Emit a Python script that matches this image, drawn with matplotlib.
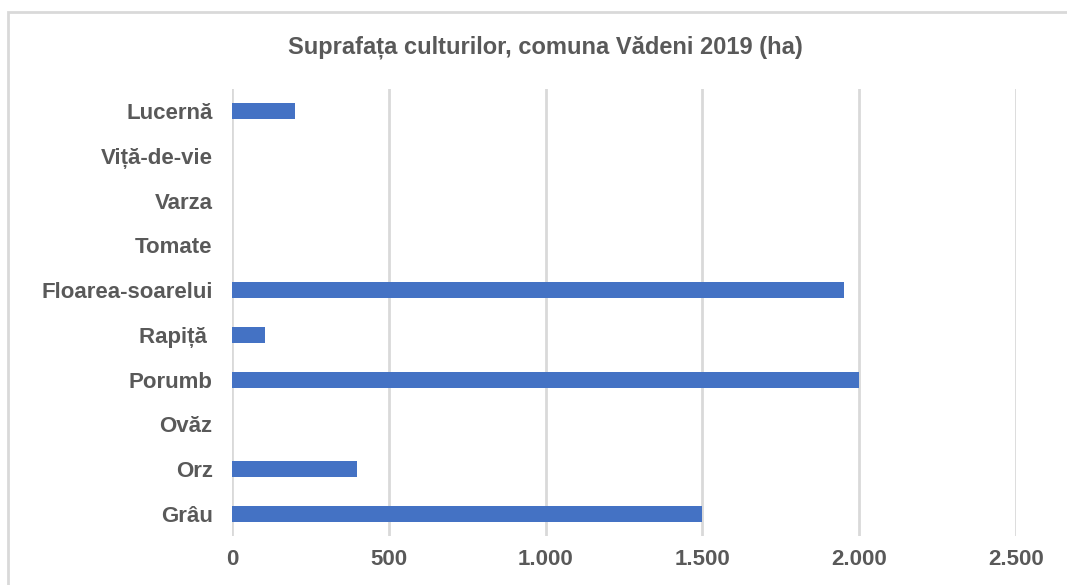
import matplotlib.pyplot as plt
from matplotlib.patches import Rectangle

# data (ha), bottom to top as in the chart
culturi = ['Grâu', 'Orz', 'Ovăz', 'Porumb', 'Rapiță ', 'Floarea-soarelui',
           'Tomate', 'Varza', 'Viță-de-vie', 'Lucernă']
suprafata = [1500, 400, 0, 2000, 105, 1950, 0, 0, 0, 200]
x_ticks = [0, 500, 1000, 1500, 2000, 2500]
x_labels = ['0', '500', '1.000', '1.500', '2.000', '2.500']

plt.rcParams['font.family'] = ['Liberation Sans', 'DejaVu Sans']
gray = '#595959'

fig = plt.figure(figsize=(10.67, 5.85), dpi=100)
W, H = 1067, 585

# chart border (extends past right/bottom edge)
fig.patches.append(Rectangle((8 / W, -0.1), 1.2, 1 - 12 / H + 0.1,
                             transform=fig.transFigure, fill=False,
                             edgecolor='#d9d9d9', linewidth=2))

ax = fig.add_axes([232 / W, 1 - 536.4 / H, 784 / W, 447.8 / H])
ax.barh(range(len(culturi)), suprafata, height=0.36, color='#4472C4', zorder=3)

ax.set_xlim(0, 2500)
ax.set_ylim(-0.5, len(culturi) - 0.5)
ax.set_xticks(x_ticks)
ax.set_xticklabels(x_labels)
ax.set_yticks(range(len(culturi)))
ax.set_yticklabels(culturi)
ax.grid(axis='x', color='#d9d9d9', linewidth=2, zorder=0)
for s in ax.spines.values():
    s.set_visible(False)
ax.tick_params(length=0, colors=gray, labelsize=16)
ax.tick_params(axis='y', pad=14)
ax.tick_params(axis='x', pad=9)
for lbl in ax.get_xticklabels() + ax.get_yticklabels():
    lbl.set_fontweight('bold')

fig.text(545 / W, 1 - 47 / H, 'Suprafața culturilor, comuna Vădeni 2019 (ha)',
         ha='center', va='center', fontsize=17, fontweight='bold', color=gray)

fig.savefig('out.png', dpi=100)
